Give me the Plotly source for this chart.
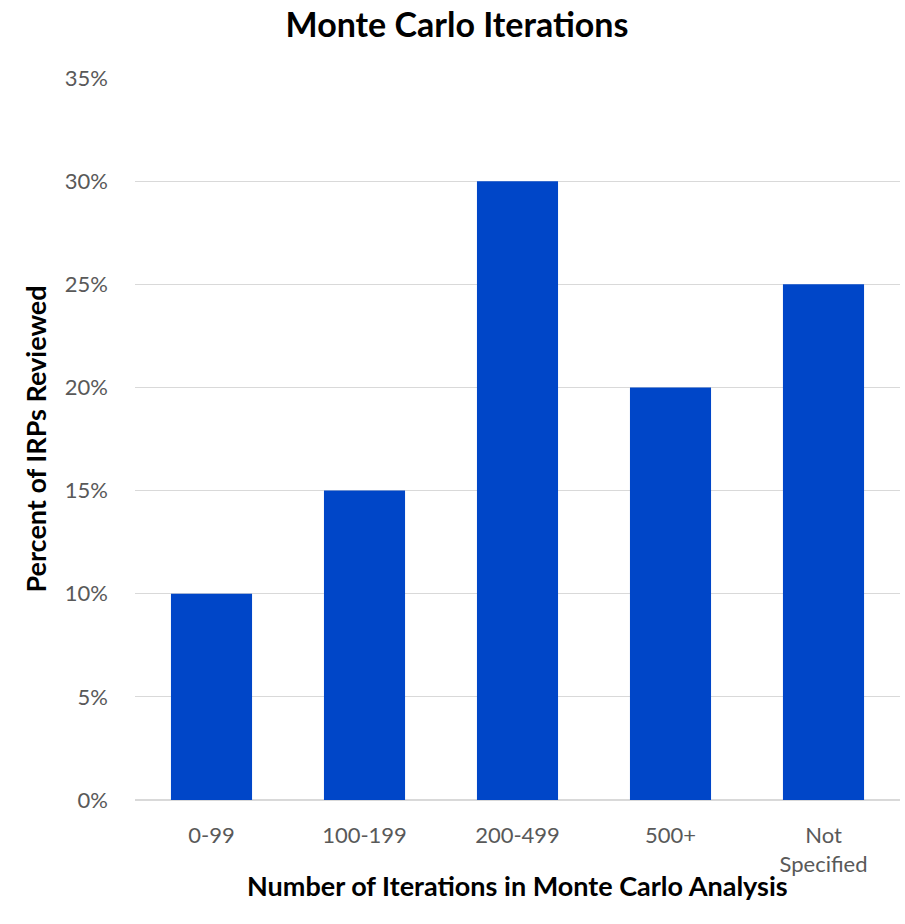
import plotly.graph_objects as go

# Share of reviewed IRPs by number of Monte Carlo iterations
categories = ["0-99", "100-199", "200-499", "500+", "Not<br>Specified"]
percent_reviewed = [0.10, 0.15, 0.30, 0.20, 0.25]
tick_values = [0, 0.05, 0.10, 0.15, 0.20, 0.25, 0.30, 0.35]
tick_labels = ["0%", "5%", "10%", "15%", "20%", "25%", "30%", "35%"]

FONT = "Lato, Calibri, Carlito, sans-serif"

fig = go.Figure(
    go.Bar(
        x=categories,
        y=percent_reviewed,
        marker=dict(color="#0046C8", line=dict(width=0)),
        width=0.53,
        hoverinfo="x+y",
    )
)

fig.update_layout(
    width=905,
    height=924,
    margin=dict(l=135, r=5, t=78, b=124),
    paper_bgcolor="white",
    plot_bgcolor="white",
    showlegend=False,
    title=dict(
        text="<b>Monte Carlo Iterations</b>",
        x=0.505,
        xanchor="center",
        y=1 - 25 / 924,
        yanchor="middle",
        yref="container",
        font=dict(family=FONT, size=34, color="#000000"),
    ),
    xaxis=dict(
        tickfont=dict(family=FONT, size=22, color="#595959"),
        showgrid=False,
        showline=False,
        ticks="",
        ticklabelstandoff=20,
    ),
    yaxis=dict(
        title=dict(
            text="<b>Percent of IRPs Reviewed</b>",
            font=dict(family=FONT, size=27, color="#000000"),
            standoff=10,
        ),
        range=[0, 0.35],
        tickvals=tick_values,
        ticktext=tick_labels,
        tickfont=dict(family=FONT, size=22, color="#595959"),
        showgrid=True,
        gridcolor="#D9D9D9",
        gridwidth=1,
        zeroline=True,
        zerolinecolor="#D9D9D9",
        zerolinewidth=1.5,
        ticks="",
        ticklabelstandoff=26,
    ),
)

# x-axis title placed as an annotation below the category labels
fig.add_annotation(
    text="<b>Number of Iterations in Monte Carlo Analysis</b>",
    xref="paper",
    yref="paper",
    x=0.5,
    y=0,
    xanchor="center",
    yanchor="middle",
    yshift=-85,
    showarrow=False,
    font=dict(family=FONT, size=27, color="#000000"),
)

fig.write_html("out.html")
